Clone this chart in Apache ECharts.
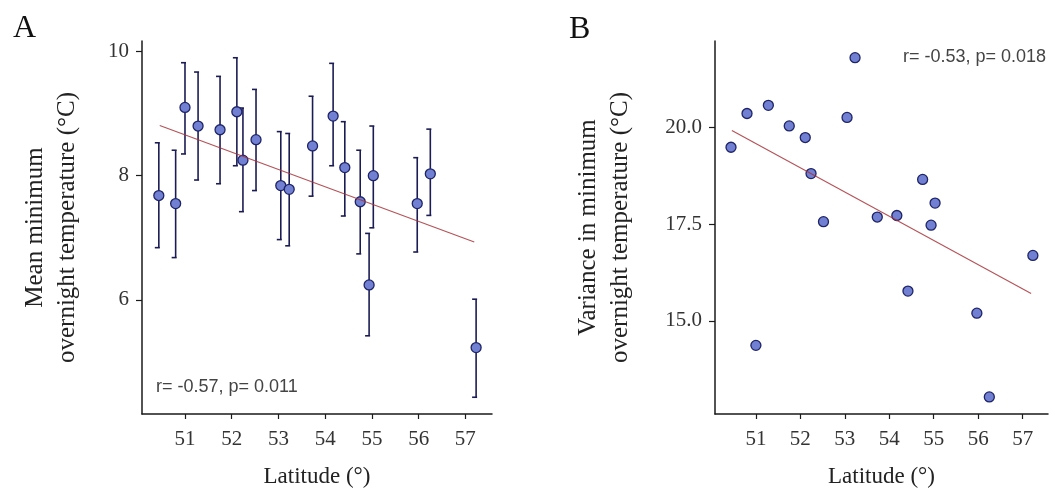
<!DOCTYPE html>
<html>
<head>
<meta charset="utf-8">
<script src="https://cdn.jsdelivr.net/npm/echarts@6/dist/echarts.min.js"></script>
<style>
html,body{margin:0;padding:0;background:#fff;}
#chart{width:1063px;height:494px;}
</style>
</head>
<body>
<div id="chart"></div>
<script>
// ---- data ----
const latitude = [50.44, 50.80, 51.00, 51.28, 51.75, 52.11, 52.24, 52.52, 53.05, 53.23, 53.73, 54.17, 54.42, 54.75, 54.94, 55.03, 55.97, 56.25, 57.23];
const meanMinTemp = [7.68, 7.55, 9.10, 8.80, 8.74, 9.03, 8.25, 8.58, 7.84, 7.78, 8.48, 8.96, 8.13, 7.58, 6.24, 8.00, 7.55, 8.03, 5.23];
const meanUpper = [8.53, 8.41, 9.82, 9.67, 9.60, 9.90, 9.09, 9.39, 8.71, 8.68, 9.28, 9.81, 8.87, 8.41, 7.07, 8.80, 8.29, 8.75, 6.01];
const meanLower = [6.84, 6.68, 8.35, 7.93, 7.87, 8.16, 7.42, 7.76, 6.97, 6.87, 7.67, 8.16, 7.35, 6.74, 5.42, 7.16, 6.77, 7.36, 4.43];
const varianceMinTemp = [19.48, 20.35, 14.37, 20.56, 20.03, 19.73, 18.80, 17.56, 20.25, 21.79, 17.68, 17.72, 15.77, 18.65, 17.47, 18.04, 15.20, 13.04, 16.69];
const fitLatitude = [50.46, 57.19];
const fitMean = [8.81, 6.93];
const fitVariance = [19.91, 15.71];
const xTicks = [51, 52, 53, 54, 55, 56, 57];
const yTicksA = [6, 8, 10];
const yTicksB = [15, 17.5, 20];
const noteA = 'r= -0.57, p= 0.011';
const noteB = 'r= -0.53, p= 0.018';

const serif = '"Liberation Serif", "DejaVu Serif", serif';
const sans = '"Liberation Sans", Arial, sans-serif';
const axisColor = '#1a1a1a';
const labelColor = '#333';

function xAxisCfg(gridIndex) {
  return {
    type: 'value', gridIndex: gridIndex, min: 50.08, max: 57.57,
    name: 'Latitude (°)', nameLocation: 'middle', nameGap: 51,
    nameTextStyle: {fontFamily: serif, fontSize: 23, color: '#222'},
    axisLine: {show: true, lineStyle: {color: axisColor, width: 1.5}},
    axisTick: {show: true, length: 5, customValues: xTicks, lineStyle: {color: axisColor, width: 1.2}},
    axisLabel: {customValues: xTicks, fontFamily: serif, fontSize: 21, color: labelColor, margin: 15},
    splitLine: {show: false}
  };
}
function yAxisCfg(gridIndex, min, max, ticks, name, gap, fmt) {
  return {
    type: 'value', gridIndex: gridIndex, min: min, max: max,
    name: name, nameLocation: 'middle', nameRotate: 90, nameGap: gap,
    nameTextStyle: {fontFamily: serif, fontSize: 25, lineHeight: 32, color: '#222'},
    axisLine: {show: true, lineStyle: {color: axisColor, width: 1.5}},
    axisTick: {show: true, length: 6, customValues: ticks, lineStyle: {color: axisColor, width: 1.2}},
    axisLabel: {customValues: ticks, fontFamily: serif, fontSize: 21, color: labelColor, margin: 13, formatter: fmt},
    splitLine: {show: false}
  };
}

const errData = latitude.map((x, i) => [x, meanLower[i], meanUpper[i]]);

const option = {
  animation: false,
  backgroundColor: '#fff',
  grid: [
    {left: 142, top: 41, width: 350, height: 373},
    {left: 715, top: 41, width: 333, height: 373}
  ],
  xAxis: [xAxisCfg(0), xAxisCfg(1)],
  yAxis: [
    yAxisCfg(0, 4.16, 10.17, yTicksA, 'Mean minimum\novernight temperature (°C)', 59, v => String(v)),
    yAxisCfg(1, 12.60, 22.22, yTicksB, 'Variance in minimum\novernight temperature (°C)', 79, v => v.toFixed(1))
  ],
  series: [
    {
      type: 'custom', xAxisIndex: 0, yAxisIndex: 0, data: errData, z: 2,
      renderItem: function (params, api) {
        const x = api.value(0);
        const lo = api.coord([x, api.value(1)]);
        const hi = api.coord([x, api.value(2)]);
        const st = {stroke: '#1c1c55', lineWidth: 1.6};
        return {
          type: 'group', children: [
            {type: 'line', shape: {x1: lo[0], y1: lo[1], x2: hi[0], y2: hi[1]}, style: st},
            {type: 'line', shape: {x1: hi[0] - 4, y1: hi[1], x2: hi[0] + 1, y2: hi[1]}, style: st},
            {type: 'line', shape: {x1: lo[0] - 4, y1: lo[1], x2: lo[0] + 1, y2: lo[1]}, style: st}
          ]
        };
      }
    },
    {
      type: 'scatter', xAxisIndex: 0, yAxisIndex: 0, z: 3,
      data: latitude.map((x, i) => [x, meanMinTemp[i]]),
      symbolSize: 10,
      itemStyle: {color: '#7180d2', borderColor: '#1e2466', borderWidth: 1.3, opacity: 1}
    },
    {
      type: 'line', xAxisIndex: 0, yAxisIndex: 0, z: 4,
      data: fitLatitude.map((x, i) => [x, fitMean[i]]),
      symbol: 'none', lineStyle: {color: '#a8323a', width: 1.1, opacity: 0.85}
    },
    {
      type: 'scatter', xAxisIndex: 1, yAxisIndex: 1, z: 3,
      data: latitude.map((x, i) => [x, varianceMinTemp[i]]),
      symbolSize: 10,
      itemStyle: {color: '#7180d2', borderColor: '#1e2466', borderWidth: 1.3, opacity: 1}
    },
    {
      type: 'line', xAxisIndex: 1, yAxisIndex: 1, z: 4,
      data: fitLatitude.map((x, i) => [x, fitVariance[i]]),
      symbol: 'none', lineStyle: {color: '#a8323a', width: 1.1, opacity: 0.85}
    }
  ],
  graphic: [
    {type: 'text', left: 13, top: 13, style: {text: 'A', font: '32px ' + serif, fill: '#111'}},
    {type: 'text', left: 569, top: 14, style: {text: 'B', font: '32px ' + serif, fill: '#111'}},
    {type: 'text', x: 156, y: 387, style: {text: noteA, font: '18px ' + sans, fill: '#444', verticalAlign: 'middle'}},
    {type: 'text', x: 903, y: 57, style: {text: noteB, font: '18px ' + sans, fill: '#444', verticalAlign: 'middle'}}
  ]
};

const chart = echarts.init(document.getElementById('chart'), null, {renderer: 'canvas'});
chart.setOption(option);
</script>
</body>
</html>
